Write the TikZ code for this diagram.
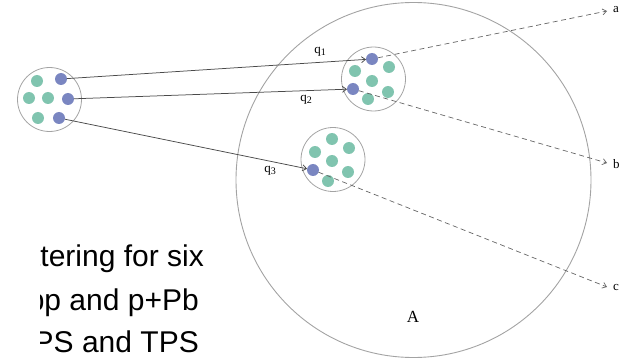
\documentclass[tikz,border=0pt]{standalone}
\usepackage{fontspec}
\newfontfamily\slidefont{Liberation Sans}
\newfontfamily\labelfont{Liberation Serif}
\usetikzlibrary{arrows.meta}
\definecolor{dotgreen}{HTML}{80C4AF}
\definecolor{dotblue}{HTML}{7A86C1}
\definecolor{ringgray}{HTML}{A3A3A3}
\definecolor{linegray}{HTML}{4A4A4A}
\begin{document}
\begin{tikzpicture}[x=1pt,y=-1pt,
  gdot/.style={circle,fill=dotgreen,inner sep=0pt,minimum size=12pt},
  bdot/.style={circle,fill=dotblue,inner sep=0pt,minimum size=12pt,outer sep=0pt},
  ring/.style={circle,draw=ringgray,line width=0.8pt,inner sep=0pt,minimum size=64pt},
  qarrow/.style={draw=linegray,line width=0.75pt,-{Straight Barb[length=4pt,width=6pt]}},
  outgoing/.style={draw=linegray!85,line width=0.7pt,dash pattern=on 5pt off 3.5pt,-{Straight Barb[length=4pt,width=6pt]}},
  lbl/.style={font=\labelfont\fontsize{13}{13}\selectfont,inner sep=0pt},
  slide/.style={font=\slidefont\fontsize{30}{30}\selectfont,inner sep=0pt,anchor=base east}
]
\useasboundingbox (0,0) rectangle (633,361);

% nucleus
\node[circle,draw=ringgray,line width=0.9pt,inner sep=0pt,minimum size=355pt] (nucleus) at (413.5,180) {};
\node[lbl,font=\labelfont\fontsize{17}{17}\selectfont] (Alabel) at (413,317) {A};

% projectile and two target nucleons
\node[ring] (proj) at (49.5,99.5) {};
\node[ring] (tgt1) at (373.5,79) {};
\node[ring] (tgt2) at (333,159.5) {};

% projectile partons
\node[gdot] (p1) at (37,81) {};
\node[bdot] (pb1) at (61,79) {};
\node[gdot] (p2) at (29,98) {};
\node[gdot] (p3) at (48,98) {};
\node[bdot] (pb2) at (68,99) {};
\node[gdot] (p4) at (38,118) {};
\node[bdot] (pb3) at (59,118) {};

% partons of the upper target nucleon
\node[bdot] (ta1) at (372,59) {};
\node[gdot] (t1) at (355,71) {};
\node[gdot] (t2) at (389,67) {};
\node[gdot] (t3) at (372,81) {};
\node[bdot] (ta2) at (353,89) {};
\node[gdot] (t4) at (388,92) {};
\node[gdot] (t5) at (368,99) {};

% partons of the lower target nucleon
\node[gdot] (s1) at (332,139) {};
\node[gdot] (s2) at (315,152) {};
\node[gdot] (s3) at (349,148) {};
\node[gdot] (s4) at (332,161) {};
\node[bdot] (sa1) at (313,170) {};
\node[gdot] (s5) at (348,172) {};
\node[gdot] (s6) at (328,181) {};

% incoming partons
\draw[qarrow] (pb1) -- (ta1);
\draw[qarrow] (pb2) -- (ta2);
\draw[qarrow] (pb3) -- (sa1);
\node[lbl] (q1) at (320,52) {q\raisebox{-0.3ex}{\fontsize{10}{10}\selectfont 1}};
\node[lbl] (q2) at (306,100) {q\raisebox{-0.3ex}{\fontsize{10}{10}\selectfont 2}};
\node[lbl] (q3) at (270,171) {q\raisebox{-0.3ex}{\fontsize{10}{10}\selectfont 3}};

% outgoing products
\coordinate (ea) at (607,11);
\coordinate (eb) at (607,163);
\coordinate (ec) at (607,287);
\draw[outgoing] (ta1) -- (ea);
\draw[outgoing] (ta2) -- (eb);
\draw[outgoing] (sa1) -- (ec);
\node[lbl,anchor=west] (la) at (613,10) {a};
\node[lbl,anchor=west] (lb) at (613,164) {b};
\node[lbl,anchor=west] (lc) at (613,288) {c};

% slide text, partly hidden on the left
\begin{scope}
\clip (40,200) rectangle (236,361);
\node[slide] (s1t) at (204,266) {ttering for six};
\node[slide] (s2t) at (199,310) {pp and p+Pb};
\node[slide] (s3t) at (199,352) {PS and TPS};
\end{scope}
\end{tikzpicture}
\end{document}
